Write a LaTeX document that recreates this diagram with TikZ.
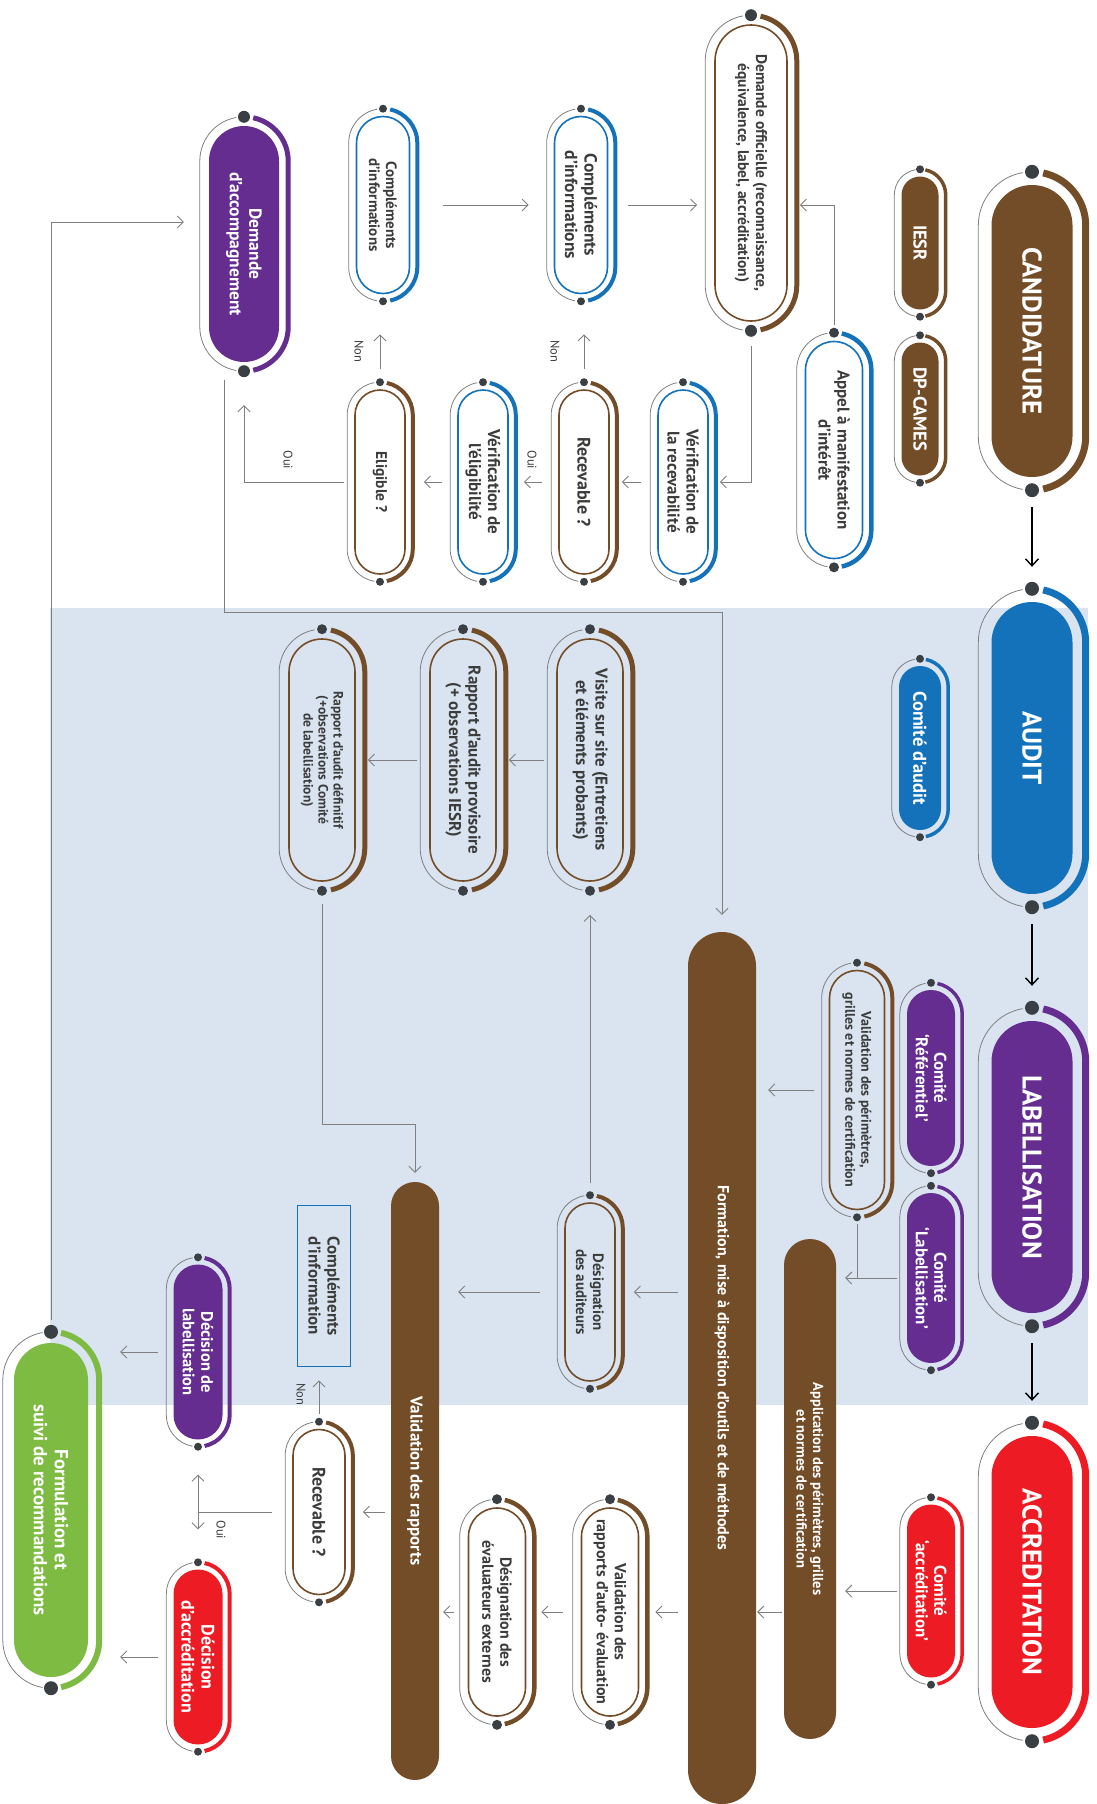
\documentclass[tikz,border=0pt]{standalone}
\usepackage{fontspec}
\setmainfont{PT Sans}
\usetikzlibrary{positioning,arrows.meta,calc,shapes.misc}

\definecolor{cbrown}{HTML}{734C28}
\definecolor{cblue}{HTML}{1372BA}
\definecolor{cpurple}{HTML}{652D90}
\definecolor{cred}{HTML}{ED1C24}
\definecolor{cgreen}{HTML}{7DBB42}
\definecolor{bandblue}{HTML}{D9E4F0}
\definecolor{dotgray}{HTML}{3A3F44}
\definecolor{linegray}{HTML}{7F7F7F}
\definecolor{txtgray}{HTML}{3C3C3B}

% bold text at a given size / leading
\newcommand{\fs}[2]{\bfseries\fontsize{#1}{#2}\selectfont}
\newcommand{\fLbl}{\fontsize{12.5}{14}\selectfont}

% ring round a pill: node, colour, gap, dot radius, thick width
\newcommand{\ring}[5]{%
  \draw[ringline] let \p1=(#1.west), \p2=(#1.east), \p3=(#1.north),
      \n1={\x3-\x1+#3}, \n2={\x3-\x1} in
    (\x1,\y1-\n2) ++(100:\n1) arc[start angle=100,end angle=180,radius=\n1]
    -- (\x1-\n1,\y2+\n2) arc[start angle=180,end angle=260,radius=\n1];
  \draw[#2,line width=#5pt] let \p1=(#1.west), \p2=(#1.east), \p3=(#1.north),
      \n1={\x3-\x1+#3}, \n2={\x3-\x1} in
    (\x1,\y1-\n2) ++(78:\n1) arc[start angle=78,end angle=0,radius=\n1]
    -- (\x1+\n1,\y2+\n2) arc[start angle=0,end angle=-78,radius=\n1];
  \fill[dotgray] let \p1=(#1.west), \p2=(#1.east) in
    (\x1,\y1+#3) circle[radius=#4] (\x2,\y2-#3) circle[radius=#4];
}

\tikzset{
  pill/.style={rounded rectangle, rotate=-90, inner sep=0pt, align=center},
  catpill/.style={pill, fill=#1, text=white},
  linepill/.style={pill, draw=#1, line width=1.6pt, fill=white, text=txtgray},
  bandpill/.style={pill, draw=#1, line width=1.6pt, text=txtgray},
  dims/.style 2 args={minimum width=#1pt, minimum height=#2pt},
  ringline/.style={draw=linegray, line width=0.8pt},
  arr/.style={draw=linegray, line width=0.9pt, -{Straight Barb[length=6pt,width=12pt]}},
  dblarr/.style={draw=linegray, line width=0.9pt, {Straight Barb[length=6pt,width=12pt]}-{Straight Barb[length=6pt,width=12pt]}},
  ln/.style={draw=linegray, line width=0.9pt},
  mainarr/.style={draw=black, line width=1.4pt, -{Straight Barb[length=7pt,width=13pt]}, shorten <=30pt, shorten >=35pt},
  lbl/.style={rotate=-90, font=\fLbl, text=txtgray, inner sep=1pt}
}

\begin{document}
\begin{tikzpicture}[x=1pt,y=1pt]
  \useasboundingbox (0,0) rectangle (1096,-1804);
  % band behind audit and labellisation
  \fill[bandblue] (50,-608) rectangle (1088,-1405);

  % main steps
  \node[catpill=cbrown, dims={292}{81}, font={\fs{27}{30}}] (cand) at (1032,-331) {CANDIDATURE};
  \node[catpill=cblue, dims={292}{81}, font={\fs{27}{30}}] (audit) at (1032,-748) {AUDIT};
  \node[catpill=cpurple, dims={292}{81}, font={\fs{27}{30}}] (label) at (1032,-1167) {LABELLISATION};
  \node[catpill=cred, dims={292}{81}, font={\fs{27}{30}}] (accred) at (1032,-1582) {ACCREDITATION};

  % actors and committees
  \node[catpill=cbrown, dims={133}{37}, font={\fs{18.5}{20}}] (iesr) at (920,-243) {IESR};
  \node[catpill=cbrown, dims={133}{37}, font={\fs{18.5}{20}}] (dpcames) at (920,-409) {DP-CAMES};
  \node[catpill=cblue, dims={164}{42}, font={\fs{18.5}{20}}] (comaudit) at (920,-748) {Comité d’audit};
  \node[catpill=cpurple, dims={176}{48}, font={\fs{17}{18.5}}] (comref) at (931,-1078) {Comité\\‘Référentiel’};
  \node[catpill=cpurple, dims={170}{48}, font={\fs{17}{18.5}}] (comlab) at (931,-1278) {Comité\\‘Labellisation’};
  \node[catpill=cred, dims={173}{48}, font={\fs{17}{18.5}}] (comacc) at (931,-1591) {Comité\\‘accréditation’};

  % candidature
  \node[linepill=cblue, dims={217}{57}, font={\fs{17}{19}}] (appel) at (834,-450) {Appel à manifestation\\d’intérêt};
  \node[linepill=cbrown, dims={296}{72}, font={\fs{15.5}{18}}] (demoff) at (751,-173) {Demande officielle (reconnaissance,\\équivalence, label, accréditation)};
  \node[linepill=cblue, dims={177}{53}, font={\fs{17.5}{19.5}}] (compl2) at (581,-205) {Compléments\\d’informations};
  \node[linepill=cblue, dims={177}{53}, font={\fs{15}{17}}] (compl1) at (383,-205) {Compléments\\d’informations};
  \node[catpill=cpurple, dims={236}{70}, font={\fs{17.5}{19.5}}] (demacc) at (244,-244) {Demande\\d’accompagnement};
  \node[linepill=cblue, dims={184}{50}, font={\fs{17}{19}}] (verrec) at (683,-482) {Vérification de\\la recevabilité};
  \node[linepill=cbrown, dims={184}{50}, font={\fs{18}{20}}] (recev1) at (584,-482) {Recevable ?};
  \node[linepill=cblue, dims={184}{50}, font={\fs{17}{19}}] (verelig) at (483,-482) {Vérification de\\l’éligibilité};
  \node[linepill=cbrown, dims={184}{50}, font={\fs{15.5}{17}}] (elig) at (380,-482) {Eligible ?};

  % audit
  \node[bandpill=cbrown, dims={242}{66}, font={\fs{17}{19.5}}] (visite) at (590,-760) {Visite sur site (Entretiens\\et éléments probants)};
  \node[bandpill=cbrown, dims={242}{66}, font={\fs{17}{19.5}}] (rapprov) at (463,-760) {Rapport d’audit provisoire\\(+ observations IESR)};
  \node[bandpill=cbrown, dims={242}{66}, font={\fs{13.5}{15}}] (rapdef) at (322,-760) {Rapport d’audit définitif\\(+observations Comité\\de labellisation)};
  \node[bandpill=cbrown, dims={178}{50}, font={\fs{15}{17}}] (desaud) at (590,-1292) {Désignation\\des auditeurs};
  \node[bandpill=cbrown, dims={239}{55}, font={\fs{14}{16}}] (valper) at (857,-1090) {Validation des périmètres,\\grilles et normes de certification};

  % long bars
  \node[catpill=cbrown, dims={872}{68}, font={\fs{16}{18}}] (formation) at (722,-1368) {Formation, mise à disposition d’outils et de méthodes};
  \node[catpill=cbrown, dims={500}{52}, font={\fs{14.5}{16.5}}] (applic) at (810,-1489) {Application des périmètres, grilles\\et normes de certification};
  \node[catpill=cbrown, dims={598}{48}, font={\fs{17}{19}}] (valrapp) at (415,-1481) {Validation des rapports};

  % accreditation
  \node[linepill=cbrown, dims={208}{57}, font={\fs{16}{18}}] (valauto) at (610,-1612) {Validation des\\rapports d’auto- évaluation};
  \node[linepill=cbrown, dims={208}{57}, font={\fs{16}{18}}] (desext) at (497,-1612) {Désignation des\\évaluateurs externes};
  \node[linepill=cbrown, dims={165}{52}, font={\fs{18}{20}}] (recev2) at (319,-1512) {Recevable ?};
  \node[draw=cblue, line width=1.6pt, rotate=-90, minimum width=161pt, minimum height=53pt, align=center, text=txtgray, font={\fs{17}{19}}] (complbox) at (324,-1286) {Compléments\\d’information};
  \node[catpill=cpurple, dims={175}{49}, font={\fs{16.5}{18.5}}] (declab) at (198,-1352) {Décision de\\labellisation};
  \node[catpill=cred, dims={175}{49}, font={\fs{18}{20}}] (decacc) at (198,-1657) {Décision\\d’accréditation};
  \node[catpill=cgreen, dims={334}{74}, font={\fs{19}{21}}] (formul) at (51,-1510) {Formulation et\\suivi de recommandations};

  % rings
  \ring{cand}{cbrown}{13}{7}{7}
  \ring{audit}{cblue}{13}{7}{7}
  \ring{label}{cpurple}{13}{7}{7}
  \ring{accred}{cred}{13}{7}{7}
  \ring{iesr}{cbrown}{7}{4}{3.5}
  \ring{dpcames}{cbrown}{7}{4}{3.5}
  \ring{comaudit}{cblue}{7}{4}{3.5}
  \ring{comref}{cpurple}{7}{4}{3.5}
  \ring{comlab}{cpurple}{7}{4}{3.5}
  \ring{comacc}{cred}{7}{4}{3.5}
  \ring{appel}{cblue}{8}{5}{4.5}
  \ring{demoff}{cbrown}{9}{6}{5}
  \ring{compl2}{cblue}{7}{4}{4}
  \ring{compl1}{cblue}{7}{4}{4}
  \ring{demacc}{cpurple}{9}{6}{5}
  \ring{verrec}{cblue}{7}{4}{4}
  \ring{recev1}{cbrown}{7}{4}{4}
  \ring{verelig}{cblue}{7}{4}{4}
  \ring{elig}{cbrown}{7}{4}{4}
  \ring{visite}{cbrown}{9}{5}{5}
  \ring{rapprov}{cbrown}{9}{5}{5}
  \ring{rapdef}{cbrown}{9}{5}{5}
  \ring{desaud}{cbrown}{7}{4}{4}
  \ring{valper}{cbrown}{7}{4}{4}
  \ring{valauto}{cbrown}{8}{5}{4.5}
  \ring{desext}{cbrown}{8}{5}{4.5}
  \ring{recev2}{cbrown}{7}{4}{4}
  \ring{declab}{cpurple}{7}{4}{4}
  \ring{decacc}{cred}{7}{4}{4}
  \ring{formul}{cgreen}{11}{7}{6}

  % main flow
  \draw[mainarr] (cand.east) -- (audit.west);
  \draw[mainarr] (audit.east) -- (label.west);
  \draw[mainarr] (label.east) -- (accred.west);

  % candidature flow
  \draw[arr, shorten <=16pt, shorten >=12pt] (appel.west) |- (demoff.north |- compl2.north);
  \draw[arr, shorten <=33pt, shorten >=25pt] (compl1.north) -- (compl2.south);
  \draw[arr, shorten <=20pt, shorten >=17pt] (compl2.north) -- (compl2.north -| demoff.south);
  \draw[arr, shorten <=24pt, shorten >=11pt] (demoff.east) |- (verrec.north);
  \draw[arr, shorten <=16pt, shorten >=12pt] (verrec.south) -- (recev1.north);
  \draw[arr, shorten <=16pt, shorten >=15pt] (recev1.south) -- (verelig.north);
  \draw[arr, shorten <=15pt, shorten >=18pt] (verelig.south) -- (elig.north);
  \draw[arr, shorten <=20pt, shorten >=40pt] (recev1.west) -- (recev1.west |- compl2.east);
  \draw[arr, shorten <=20pt, shorten >=40pt] (elig.west) -- (elig.west |- compl1.east);
  \draw[arr, shorten <=10pt, shorten >=43pt] (elig.south) -| (demacc.east);
  \draw[arr, shorten >=17pt] ([xshift=-20pt,yshift=-18pt]demacc.east) -- ++(0,-232) -| (formation.west);
  \draw[arr, shorten >=25pt] ([yshift=23pt]formul.west) |- ([yshift=22pt]demacc.south);

  \node[lbl] (oui1) at (532,-460) {Oui};
  \node[lbl] (oui2) at (288,-460) {Oui};
  \node[lbl] (non1) at (555,-351) {Non};
  \node[lbl] (non2) at (359,-351) {Non};

  % audit flow
  \draw[arr, shorten <=12pt, shorten >=12pt] (visite.south) -- (rapprov.north);
  \draw[arr, shorten <=12pt, shorten >=12pt] (rapprov.south) -- (rapdef.north);
  \draw[arr, shorten <=22pt, shorten >=9pt] (rapdef.east) -- ++(0,-243) -| (valrapp.west);
  \draw[arr, shorten <=19pt, shorten >=33pt] (desaud.west) -- (visite.east);
  \draw[arr, shorten <=10pt, shorten >=18pt] (desaud.north -| formation.south) -- (desaud.north);
  \draw[arr, shorten <=24pt, shorten >=19pt] (desaud.south) -- (desaud.south -| valrapp.north);
  \draw[arr, shorten <=15pt, shorten >=12pt] (valper.south) -- (valper.south -| formation.north);
  \draw[ln, shorten <=14pt] (valper.east) -- (valper.east |- comlab.south);
  \draw[arr, shorten <=10pt, shorten >=9pt] (comlab.south) -- (comlab.south -| applic.north);

  % accreditation flow
  \draw[arr, shorten <=10pt, shorten >=9pt] (comacc.south) -- (comacc.south -| applic.north);
  \draw[arr, shorten <=2pt, shorten >=1pt] (valauto -| applic.south) -- (valauto -| formation.north);
  \draw[arr, shorten <=10pt, shorten >=16pt] (valauto -| formation.south) -- (valauto.north);
  \draw[arr, shorten <=18pt, shorten >=15pt] (valauto.south) -- (desext.north);
  \draw[arr, shorten <=14pt, shorten >=4pt] (desext.south) -- (desext.south -| valrapp.north);
  \draw[arr, shorten <=6pt, shorten >=17pt] (recev2 -| valrapp.south) -- (recev2.north);
  \draw[arr, shorten <=15pt, shorten >=13pt] (recev2.west) -- (recev2.west |- complbox.east);
  \draw[ln, shorten <=20pt] (recev2.south) -- (recev2.south -| declab.east);
  \draw[dblarr, shorten <=35pt, shorten >=40pt] (declab.east) -- (decacc.west);
  \draw[arr, shorten <=15pt, shorten >=32pt] (declab.south) -- (declab.south -| formul.north);
  \draw[arr, shorten <=15pt, shorten >=32pt] (decacc.south) -- (decacc.south -| formul.north);

  \node[lbl] (non3) at (301,-1394) {Non};
  \node[lbl] (oui3) at (221,-1530) {Oui};
\end{tikzpicture}
\end{document}
